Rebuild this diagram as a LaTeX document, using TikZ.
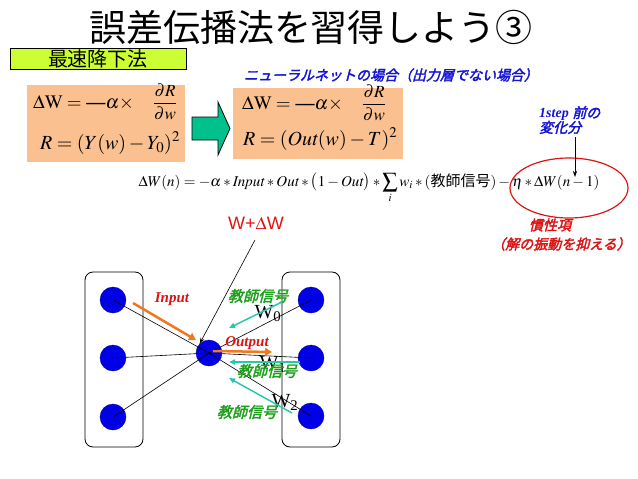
\documentclass[tikz,border=0pt]{standalone}
\usepackage{amsmath}
\usepackage{mathptmx}
\usepackage{fontspec}
\setmainfont{Liberation Serif}
\setsansfont{Liberation Sans}
\newfontfamily\jp{Noto Sans CJK JP}
\newfontfamily\jpbi[FakeSlant=0.25,FakeBold=2.5]{Noto Sans CJK JP}
\usetikzlibrary{arrows.meta,shapes.geometric}
\definecolor{peach}{RGB}{250,192,144}
\definecolor{limeg}{RGB}{204,255,51}
\definecolor{tealg}{RGB}{0,192,140}
\definecolor{subblue}{RGB}{20,20,210}
\definecolor{eqred}{RGB}{220,20,20}
\definecolor{orng}{RGB}{240,120,30}
\definecolor{tealarr}{RGB}{40,200,170}
\definecolor{grn}{RGB}{30,160,30}
\definecolor{nodeblue}{RGB}{0,0,230}
\tikzset{
  box/.style={fill=peach, draw=none},
  neuron/.style={circle, fill=nodeblue, draw=nodeblue!70!black, minimum size=26pt, inner sep=0pt},
  layer/.style={draw=black, rounded corners=8pt, line width=0.8pt},
  conn/.style={draw=black, line width=0.6pt},
  orarrow/.style={draw=orng, line width=2.5pt, -{Triangle[length=7pt,width=8pt]}},
  tearrow/.style={draw=tealarr, line width=1.5pt, -{Triangle[length=6pt,width=5pt]}},
  glabel/.style={text=grn, font=\jpbi\fontsize{15}{17}\selectfont, inner sep=0pt},
  rlabel/.style={text=eqred, font=\bfseries\itshape\fontsize{15}{17}\selectfont, inner sep=0pt},
  wlabel/.style={font=\fontsize{20}{22}\selectfont, inner sep=0pt},
  formula/.style={anchor=west, inner sep=0pt, font=\fontsize{19}{22}\selectfont},
}
\newcommand{\myfrac}{{\fontsize{17}{19}\selectfont$\dfrac{\partial R}{\partial w}$}}
\begin{document}
\begin{tikzpicture}[x=1pt,y=-1pt]
\useasboundingbox (0,0) rectangle (638,479);
% title
\node (title) at (311,27) {\jp\fontsize{37}{40}\selectfont 誤差伝播法を習得しよう③};
% green box
\node (sdm) [fill=limeg, draw=black, line width=0.8pt, minimum width=176pt, minimum height=21pt, inner sep=0pt] at (98,59) {\jp\fontsize{20}{21}\selectfont 最速降下法};
% peach boxes
\node (lbox) [box, minimum width=158pt, minimum height=77pt] at (106,123.5) {};
\node (rbox) [box, minimum width=170pt, minimum height=71pt] at (318,123.5) {};
\node (lf1) [formula] at (33,102) {$\Delta\mathrm{W} = $ \textbf{—}$\alpha\times$\quad\myfrac};
\node (lf2) [formula, font=\fontsize{20}{22}\selectfont] at (40,143) {$R = (Y(w) - Y_0)^2$};
\node (rf1) [formula] at (242,103) {$\Delta\mathrm{W} = $ \textbf{—}$\alpha\times$\quad\myfrac};
\node (rf2) [formula, font=\fontsize{20}{22}\selectfont] at (243,139) {$R = (\mathit{Out}(w) - T)^2$};
% block arrow
\draw[fill=tealg, draw=black, line width=0.8pt] (192,117) -- (218,117) -- (218,102) -- (230,128.5) -- (218,155) -- (218,140) -- (192,140) -- cycle;
% subtitle
\node (sub) [text=subblue, inner sep=0pt] at (391,75) {\jpbi\fontsize{14}{16}\selectfont ニューラルネットの場合（出力層でない場合）};
% main equation
\node (eq) [inner sep=0pt, font=\fontsize{15}{18}\selectfont] at (369,188) {$\displaystyle \Delta W(n) = -\alpha \ast \mathit{Input} \ast \mathit{Out} \ast \bigl(1 - \mathit{Out}\bigr)\ast\sum_i w_i \ast (\mbox{\jp 教師信号}) - \eta \ast \Delta W(n-1)$};
% ellipse
\node (ell) [ellipse, draw=eqred, line width=1.2pt, minimum width=118pt, minimum height=60pt] at (569,188) {};
% 1step label
\node (step) [anchor=west, text=subblue, inner sep=0pt, align=left] at (539,120) {{\bfseries\itshape\fontsize{14}{16}\selectfont 1step }{\jpbi\fontsize{14}{16}\selectfont 前の}\\[-1pt]{\jpbi\fontsize{14}{16}\selectfont 変化分}};
\coordinate (stepa) at (575,137);
\coordinate (stepb) at (575,177);
\draw[-{Stealth[length=6pt,width=4pt]}, line width=0.6pt] (stepa) -- (stepb);
% inertia label
\node (inert1) [text=eqred, inner sep=0pt] at (550,225) {\jpbi\fontsize{14}{16}\selectfont 慣性項};
\node (inert2) [text=eqred, inner sep=0pt] at (561,244) {\jpbi\fontsize{14}{16}\selectfont （解の振動を抑える）};
% network
\node (lrect) [layer, minimum width=58pt, minimum height=175pt] at (114,359.5) {};
\node (rrect) [layer, minimum width=58pt, minimum height=175pt] at (311,359.5) {};
\node (L1) [neuron] at (113,300) {};
\node (L2) [neuron] at (113,358) {};
\node (L3) [neuron] at (113,417) {};
\node (C) [neuron] at (209,353) {};
\node (R1) [neuron] at (311,300) {};
\node (R2) [neuron] at (311,358) {};
\node (R3) [neuron] at (311,416) {};
\draw[conn] (L1.center) -- (C.center);
\draw[conn] (L2.center) -- (C.center);
\draw[conn] (L3.center) -- (C.center);
\draw[conn] (C.center) -- (R1.center);
\draw[conn] (C.center) -- (R2.center);
\draw[conn] (C.center) -- (R3.center);
% W + dW
\node (wdw) [text=eqred, inner sep=0pt, font=\sffamily\fontsize{18}{20}\selectfont] at (256,223) {W+$\Delta$W};
\coordinate (wdwa) at (255,240);
\draw[-{Stealth[length=6pt,width=4pt]}, line width=0.6pt] (wdwa) -- (C.north west);
% labels
\node (inp) [rlabel] at (172,299) {Input};
\node (outp) [rlabel] at (247,343) {Output};
\node (w0) [wlabel] at (268,314) {W\textsubscript{0}};
\node (w1) [wlabel] at (273,364) {W\textsubscript{1}};
\node (w2) [wlabel] at (285,402) {W\textsubscript{2}};
\coordinate (ia) at (133,303);
\coordinate (ib) at (196,340);
\draw[orarrow] (ia) -- (ib);
\coordinate (oa) at (213,351);
\coordinate (ob) at (272,352);
\draw[orarrow] (oa) -- (ob);
\node (g1) [glabel] at (258,296) {教師信号};
\node (g2) [glabel] at (267,371) {教師信号};
\node (g3) [glabel] at (247,412) {教師信号};
\coordinate (t1a) at (282,302);
\coordinate (t1b) at (229,328);
\coordinate (t2a) at (300,362);
\coordinate (t2b) at (229,362);
\coordinate (t3a) at (292,413);
\coordinate (t3b) at (229,378);
\draw[tearrow] (t1a) -- (t1b);
\draw[tearrow] (t2a) -- (t2b);
\draw[tearrow] (t3a) -- (t3b);
\end{tikzpicture}
\end{document}
